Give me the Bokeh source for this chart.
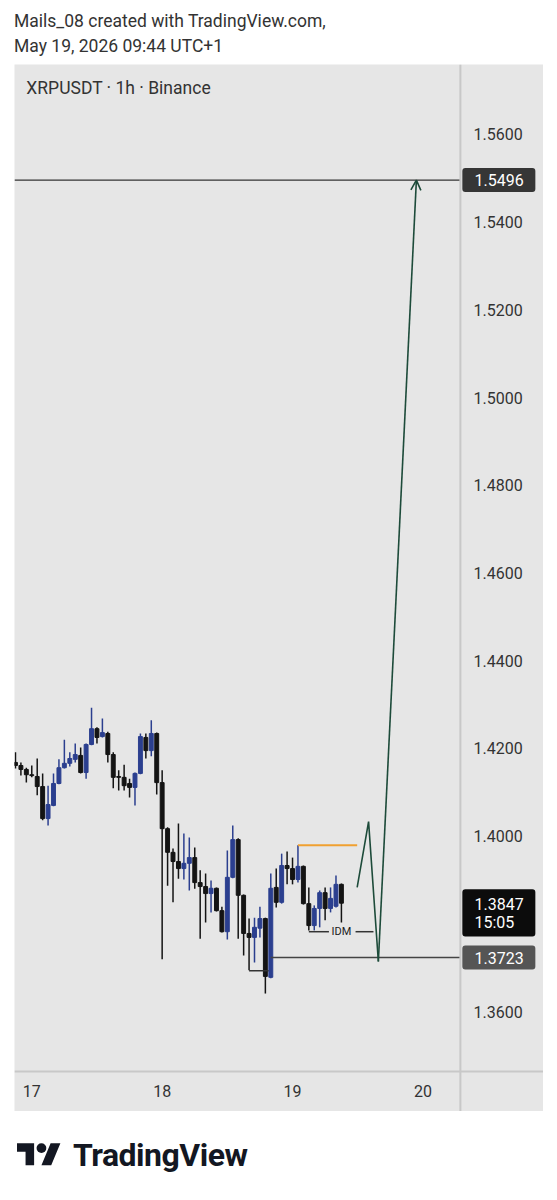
from bokeh.plotting import figure
from bokeh.models import (Range1d, FixedTicker, Span, Arrow, OpenHead, Div,
                          NumeralTickFormatter, ColumnDataSource)
from bokeh.layouts import column
from bokeh.embed import file_html
from bokeh.resources import INLINE
from bokeh.core.properties import value

# ---------------- data ----------------
# hourly candles, index 0 = 16 May 21:00 ... index 60 = 19 May 09:00 (UTC+1)
idx = list(range(61))
opens = [1.4168, 1.4161, 1.4152, 1.4140, 1.4136, 1.4113, 1.4040, 1.4070, 1.4120, 1.4156,
         1.4166, 1.4175, 1.4184, 1.4145, 1.4209, 1.4245, 1.4227, 1.4234, 1.4186, 1.4136,
         1.4134, 1.4120, 1.4111, 1.4143, 1.4225, 1.4195, 1.4234, 1.4122, 1.4017, 1.3963,
         1.3942, 1.3926, 1.3938, 1.3951, 1.3894, 1.3885, 1.3869, 1.3881, 1.3830, 1.3782,
         1.3906, 1.3992, 1.3865, 1.3778, 1.3769, 1.3790, 1.3812, 1.3678, 1.3883, 1.3849,
         1.3933, 1.3926, 1.3901, 1.3931, 1.3846, 1.3796, 1.3835, 1.3871, 1.3835, 1.3840,
         1.3890]
highs = [1.4191, 1.4168, 1.4156, 1.4161, 1.4177, 1.4143, 1.4115, 1.4143, 1.4175, 1.4220,
         1.4191, 1.4211, 1.4202, 1.4211, 1.4293, 1.4248, 1.4268, 1.4238, 1.4191, 1.4150,
         1.4163, 1.4131, 1.4145, 1.4234, 1.4234, 1.4264, 1.4236, 1.4150, 1.4020, 1.3972,
         1.4029, 1.4006, 1.3997, 1.3974, 1.3922, 1.3915, 1.3899, 1.3883, 1.3839, 1.3967,
         1.4024, 1.3995, 1.3867, 1.3812, 1.3814, 1.3839, 1.3814, 1.3915, 1.3926, 1.3960,
         1.3965, 1.3951, 1.3979, 1.3933, 1.3883, 1.3842, 1.3876, 1.3883, 1.3883, 1.3910,
         1.3892]
lows = [1.4154, 1.4138, 1.4122, 1.4134, 1.4093, 1.4036, 1.4024, 1.4068, 1.4118, 1.4154,
        1.4159, 1.4168, 1.4143, 1.4131, 1.4207, 1.4211, 1.4225, 1.4168, 1.4109, 1.4104,
        1.4104, 1.4088, 1.4070, 1.4141, 1.4177, 1.4182, 1.4095, 1.3719, 1.3887, 1.3849,
        1.3903, 1.3901, 1.3876, 1.3880, 1.3766, 1.3803, 1.3826, 1.3828, 1.3780, 1.3764,
        1.3904, 1.3766, 1.3728, 1.3694, 1.3712, 1.3769, 1.3641, 1.3676, 1.3837, 1.3846,
        1.3890, 1.3890, 1.3894, 1.3844, 1.3785, 1.3785, 1.3792, 1.3808, 1.3826, 1.3837,
        1.3803]
closes = [1.4161, 1.4152, 1.4140, 1.4138, 1.4113, 1.4040, 1.4072, 1.4120, 1.4156, 1.4166,
          1.4177, 1.4186, 1.4145, 1.4209, 1.4245, 1.4225, 1.4236, 1.4186, 1.4134, 1.4134,
          1.4115, 1.4111, 1.4143, 1.4227, 1.4195, 1.4234, 1.4122, 1.4017, 1.3963, 1.3942,
          1.3926, 1.3938, 1.3951, 1.3894, 1.3885, 1.3869, 1.3881, 1.3830, 1.3782, 1.3906,
          1.3992, 1.3865, 1.3778, 1.3769, 1.3792, 1.3812, 1.3680, 1.3881, 1.3849, 1.3933,
          1.3926, 1.3901, 1.3931, 1.3846, 1.3796, 1.3835, 1.3871, 1.3835, 1.3858, 1.3890,
          1.3847]

day_tick_pos = [3, 27, 51, 75]
day_tick_labels = ["17", "18", "19", "20"]
price_ticks = [1.36, 1.40, 1.42, 1.44, 1.46, 1.48, 1.50, 1.52, 1.54, 1.56]

target_level = 1.5496
last_price = 1.3847
countdown = "15:05"
support_level = 1.3723
support_start = 47
orange_level = 1.3979
orange_x = [52, 62.9]
low_bracket_level = 1.3693
low_bracket_x = [43, 46.6]
idm_level = 1.3782
idm_bracket_x = [54, 57.7]
idm_tail_x = [62.6, 65.9]
idm_text_x = 60.0
proj_x = [62.9, 65.0, 66.8, 73.8]
proj_y = [1.3883, 1.4033, 1.3714, 1.5496]

UP = "#2b3f8f"
DOWN = "#141414"
GREEN = "#1d4b3a"
FONT = "Roboto"
BG = "#e6e6e6"
RULE = "#c8c8c8"

colors = [UP if c >= o else DOWN for o, c in zip(opens, closes)]
src = ColumnDataSource(dict(
    x=idx, o=opens, h=highs, l=lows, c=closes,
    top=[max(o, c) for o, c in zip(opens, closes)],
    bot=[min(o, c) for o, c in zip(opens, closes)],
    col=colors))

# x: candle index; chart pane ends at SEP, the price-scale strip lies beyond it
# y: price; chart pane ends at Y_SEP, the time-scale strip lies below it
X0, SEP, X1 = -0.18, 81.9, 97.2
Y0, Y_SEP, Y1 = 1.33720, 1.34632, 1.57596
p = figure(width=529, height=1047, x_range=Range1d(X0, X1), y_range=Range1d(Y0, Y1),
           output_backend="svg", toolbar_location=None, y_axis_location="right",
           min_border_left=0, min_border_top=0, min_border_right=0, min_border_bottom=0,
           background_fill_color=BG, border_fill_color=BG, outline_line_color=None,
           margin=(0, 0, 0, 14))
p.grid.grid_line_color = None

# axes (labels drawn by the real axes, pulled back into the scale strips)
p.yaxis.ticker = FixedTicker(ticks=price_ticks)
p.yaxis.formatter = NumeralTickFormatter(format="0.0000")
p.xaxis.ticker = FixedTicker(ticks=day_tick_pos)
p.xaxis.major_label_overrides = {k: v for k, v in zip(day_tick_pos, day_tick_labels)}
for ax in (p.xaxis, p.yaxis):
    ax.axis_line_color = None
    ax.major_tick_line_color = None
    ax.minor_tick_line_color = None
    ax.major_label_text_font = FONT
    ax.major_label_text_font_size = "16px"
    ax.major_label_text_color = "#333333"
p.yaxis.major_label_standoff = -76
p.xaxis.major_label_standoff = -33

# separators between chart pane and scales
p.add_layout(Span(location=SEP, dimension="height", line_color=RULE, line_width=2))
p.add_layout(Span(location=Y_SEP, dimension="width", line_color=RULE, line_width=2))

# candles
p.segment(x0="x", y0="l", x1="x", y1="h", source=src, line_color="col", line_width=1.5)
p.vbar(x="x", width=0.72, top="top", bottom="bot", source=src, fill_color="col",
       line_color="col", line_width=1)

# levels
p.segment(x0=[X0], y0=[target_level], x1=[SEP], y1=[target_level],
          line_color="#333333", line_width=1.2)
p.segment(x0=[support_start], y0=[support_level], x1=[SEP], y1=[support_level],
          line_color="#444444", line_width=1.5)
p.segment(x0=[orange_x[0]], y0=[orange_level], x1=[orange_x[1]], y1=[orange_level],
          line_color="#f0a030", line_width=2)
p.segment(x0=[low_bracket_x[0]], y0=[low_bracket_level], x1=[low_bracket_x[1]],
          y1=[low_bracket_level], line_color="#333333", line_width=1.5)
p.segment(x0=[idm_bracket_x[0], idm_tail_x[0]], y0=[idm_level, idm_level],
          x1=[idm_bracket_x[1], idm_tail_x[1]], y1=[idm_level, idm_level],
          line_color="#333333", line_width=1.5)
p.text(x=[idm_text_x], y=[idm_level], text=["IDM"], text_font=value(FONT),
       text_font_size="11px", text_color="#222222", text_align="center",
       text_baseline="middle")

# projection path
p.line(x=proj_x[:3], y=proj_y[:3], line_color=GREEN, line_width=1.6)
p.add_layout(Arrow(end=OpenHead(size=10, line_color=GREEN, line_width=1.6),
                   x_start=proj_x[2], y_start=proj_y[2], x_end=proj_x[3], y_end=proj_y[3],
                   line_color=GREEN, line_width=1.6))

# symbol caption
p.text(x=[2.0], y=[1.5707], text=["XRPUSDT · 1h · Binance"], text_font=value(FONT),
       text_font_size="17.5px", text_color="#333333", text_baseline="middle")

# price tags in the scale strip
TAG_L, TAG_R, TAG_TX = 82.26, 95.7, 84.5
HALF = 0.00274
p.quad(left=[TAG_L] * 3, right=[TAG_R] * 3,
       top=[target_level + HALF, last_price + 0.0032, support_level + HALF],
       bottom=[target_level - HALF, last_price - 0.0076, support_level - HALF],
       fill_color=["#363636", "#0c0c0c", "#555555"], line_color=None, border_radius=3)
p.text(x=[TAG_TX] * 4, y=[target_level, last_price - 0.0001, last_price - 0.0044, support_level],
       text=[f"{target_level:.4f}", f"{last_price:.4f}", countdown, f"{support_level:.4f}"],
       text_font=value(FONT), text_font_size="16px", text_color="white",
       text_baseline="middle", text_align="left")

header = Div(text=('<div style="font-family:Roboto;font-size:17.5px;color:#333;'
                   'line-height:25px;padding-top:1px;">'
                   'Mails_08 created with TradingView.com,<br>May 19, 2026 09:44 UTC+1</div>'),
             width=529, height=56, margin=(8, 0, 0, 14))

logo = Div(text=('<div style="position:relative;height:72px;width:529px;">'
                 '<svg style="position:absolute;left:3px;top:32px" width="44" height="23" '
                 'viewBox="0 4 36 18.5"><path d="M14 22H7V11H0V4h14v18zM28 22h-8l7.5-18h8L28 22z" '
                 'fill="#131722"/><circle cx="20" cy="8" r="4" fill="#131722"/></svg>'
                 '<span style="position:absolute;left:59px;top:24px;font-family:Roboto;'
                 'font-weight:700;font-size:32px;line-height:40px;color:#131722;'
                 'letter-spacing:-0.5px;">TradingView</span></div>'),
           width=529, height=72, margin=(0, 0, 0, 14))

layout = column(header, p, logo, spacing=0)
open("out.html", "w").write(file_html(layout, INLINE))
